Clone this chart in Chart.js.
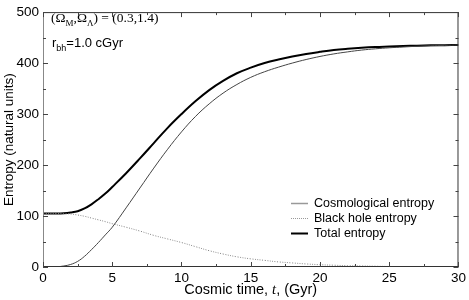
<!DOCTYPE html>
<html>
<head>
<meta charset="utf-8">
<script src="https://cdn.jsdelivr.net/npm/chart.js@4/dist/chart.umd.min.js"></script>
<style>
  html, body { margin: 0; padding: 0; background: #fff; }
  #wrap { width: 469px; height: 300px; }
</style>
</head>
<body>
<div id="wrap"><canvas id="entropy" width="469" height="300"></canvas></div>
<script>
// Tid i Gyr och entropi (naturliga enheter)
const timeGyr = [0, 1, 1.5, 2, 2.5, 3, 3.5, 4, 4.5, 5, 6, 7, 8, 9, 10, 11, 12, 13, 14, 15,
  16, 17, 18, 19, 20, 21, 22, 23, 24, 25, 26, 27, 28, 29, 30];
const cosmoEntropy = [0, 0.5, 2, 5, 11, 21, 34, 48, 63, 78, 116, 155, 194, 231, 265, 295, 320, 341, 358, 372,
  383, 392, 400, 407, 413, 418, 422, 425.5, 428, 430, 431.5, 433, 434, 434.7, 435.5];
const blackHoleEntropy = [105, 105, 104.5, 104, 102, 99.5, 96, 92.5, 89, 85, 78, 70.5, 62, 55, 48, 40, 32, 25.5, 20, 16,
  13, 10, 8, 6, 4.5, 3.5, 2.5, 2, 1.5, 1, 0.8, 0.6, 0.4, 0.3, 0.2];
const totalEntropy = [105, 105, 105.5, 107, 109.5, 115, 123, 133, 144, 157, 184, 213, 243, 273, 300, 325, 347, 365, 380, 391,
  400, 407, 413, 418, 422, 425.5, 428, 430, 431.5, 432.5, 433.5, 434.2, 434.8, 435.2, 435.5];

const seriesNames = ['Cosmological entropy', 'Black hole entropy', 'Total entropy'];
const xTickValues = [0, 5, 10, 15, 20, 25, 30];
const yTickValues = [0, 100, 200, 300, 400, 500];

const toPoints = ys => ys.map((y, i) => ({ x: timeGyr[i], y }));

// ram, inåtvända tickmarkeringar, text och förklaring
const framePlugin = {
  id: 'frame',
  afterDraw(chart) {
    const { ctx, chartArea: a, scales: { x, y } } = chart;
    ctx.save();
    ctx.lineWidth = 1;
    ctx.strokeStyle = '#333';
    ctx.strokeRect(a.left + 0.5, a.top + 0.5, a.right - a.left - 1, a.bottom - a.top - 1);
    ctx.strokeStyle = '#888';
    ctx.beginPath();
    ctx.moveTo(a.left + 0.5, a.top); ctx.lineTo(a.left + 0.5, a.bottom);
    ctx.stroke();

    ctx.strokeStyle = '#444';
    ctx.beginPath();
    for (let v = 0; v <= 30; v += 2.5) {
      const px = Math.round(x.getPixelForValue(v)) + 0.5;
      const len = v % 5 === 0 ? 5 : 3;
      ctx.moveTo(px, a.bottom); ctx.lineTo(px, a.bottom - len);
      ctx.moveTo(px, a.top); ctx.lineTo(px, a.top + len);
    }
    for (let v = 0; v <= 500; v += 50) {
      const py = Math.round(y.getPixelForValue(v)) + 0.5;
      const len = v % 100 === 0 ? 5 : 3;
      ctx.moveTo(a.left, py); ctx.lineTo(a.left + len, py);
      ctx.moveTo(a.right, py); ctx.lineTo(a.right - len, py);
    }
    ctx.stroke();

    // axeltitlar
    ctx.fillStyle = '#000';
    ctx.textBaseline = 'middle';
    const sansT = '14.5px "Liberation Sans", Arial, sans-serif';
    const italT = 'italic 14.5px "Liberation Serif", serif';
    const xt = [['Cosmic time, ', sansT], ['t', italT], [', (Gyr)', sansT]];
    let total = 0;
    xt.forEach(([t, f]) => { ctx.font = f; total += ctx.measureText(t).width; });
    let sx = (a.left + a.right) / 2 - total / 2;
    ctx.textAlign = 'left';
    xt.forEach(([t, f]) => {
      ctx.font = f;
      ctx.fillText(t, sx, 290);
      sx += ctx.measureText(t).width;
    });

    ctx.save();
    ctx.translate(9, (a.top + a.bottom) / 2);
    ctx.rotate(-Math.PI / 2);
    ctx.textAlign = 'center';
    ctx.font = '13.5px "Liberation Sans", Arial, sans-serif';
    ctx.fillText('Entropy (natural units)', 0, 0);
    ctx.restore();

    // modellparametrar
    ctx.textBaseline = 'alphabetic';
    ctx.textAlign = 'left';
    let tx = 51;
    const serif = s => `${s}px "Liberation Serif", "Times New Roman", serif`;
    const parts = [['(Ω', 13.5, 0], ['M', 9, 4], [',Ω', 13.5, 0], ['Λ', 9, 4], [') = (0.3,1.4)', 13.5, 0]];
    parts.forEach(([t, s, dy]) => {
      ctx.font = serif(s);
      ctx.fillText(t, tx, 22 + dy);
      tx += ctx.measureText(t).width;
    });
    tx = 52;
    const sans = s => `${s}px "Liberation Sans", Arial, sans-serif`;
    [['r', 13, 0], ['bh', 9, 4], ['=1.0 cGyr', 13, 0]].forEach(([t, s, dy]) => {
      ctx.font = sans(s);
      ctx.fillText(t, tx, 47 + dy);
      tx += ctx.measureText(t).width;
    });

    // förklaring
    const rows = [203, 218, 233];
    const styles = [
      { color: '#999', width: 1.5, dash: [] },
      { color: '#999', width: 1, dash: [1, 1] },
      { color: '#000', width: 2, dash: [] }
    ];
    ctx.font = sans(12.5);
    ctx.textBaseline = 'middle';
    seriesNames.forEach((name, i) => {
      ctx.strokeStyle = styles[i].color;
      ctx.lineWidth = styles[i].width;
      ctx.setLineDash(styles[i].dash);
      ctx.beginPath();
      ctx.moveTo(291, rows[i] + 0.5); ctx.lineTo(308, rows[i] + 0.5);
      ctx.stroke();
      ctx.setLineDash([]);
      ctx.fillStyle = '#000';
      ctx.fillText(name, 314, rows[i] + 1);
    });
    ctx.restore();
  }
};

new Chart(document.getElementById('entropy'), {
  type: 'line',
  data: {
    datasets: [
      { label: seriesNames[0], data: toPoints(cosmoEntropy), borderColor: '#444', borderWidth: 1 },
      { label: seriesNames[1], data: toPoints(blackHoleEntropy), borderColor: '#888', borderWidth: 1, borderDash: [1, 1.5] },
      { label: seriesNames[2], data: toPoints(totalEntropy), borderColor: '#000', borderWidth: 2 }
    ]
  },
  options: {
    responsive: false,
    animation: false,
    devicePixelRatio: 1,
    layout: { padding: { top: 5, right: 9, left: 0, bottom: 0 } },
    elements: {
      point: { radius: 0 },
      line: { tension: 0.4, fill: false }
    },
    plugins: { legend: { display: false }, tooltip: { enabled: false } },
    scales: {
      x: {
        type: 'linear', min: 0, max: 30,
        grid: { display: false, drawTicks: false },
        border: { display: false },
        afterBuildTicks: s => { s.ticks = xTickValues.map(v => ({ value: v })); },
        afterFit: s => { s.height = 33; },
        ticks: { color: '#000', padding: 3, maxRotation: 0, font: { family: '"Liberation Sans", Arial, sans-serif', size: 13.5 } }
      },
      y: {
        min: 0, max: 500,
        grid: { display: false, drawTicks: false },
        border: { display: false },
        afterBuildTicks: s => { s.ticks = yTickValues.map(v => ({ value: v })); },
        afterFit: s => { s.width = 43; },
        ticks: { color: '#000', padding: 4, font: { family: '"Liberation Sans", Arial, sans-serif', size: 13.5 } }
      }
    }
  },
  plugins: [framePlugin]
});
</script>
</body>
</html>
